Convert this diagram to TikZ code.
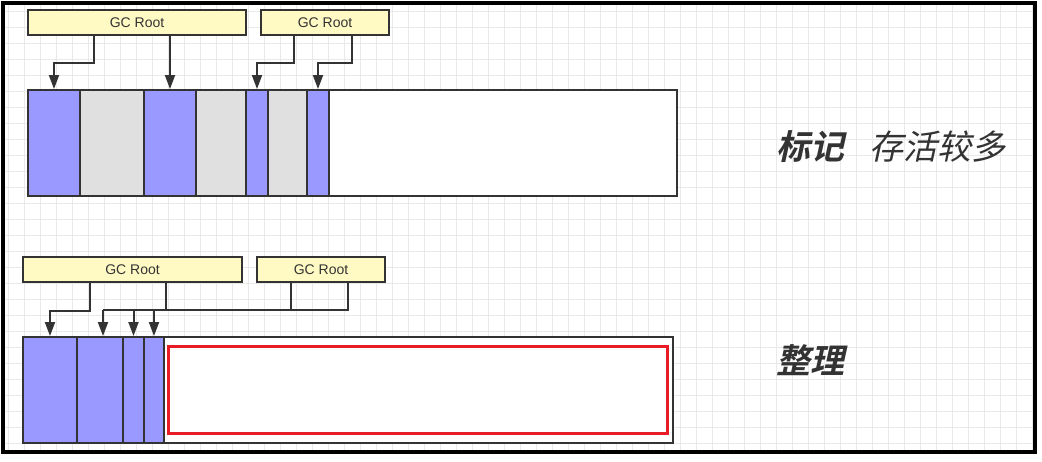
\documentclass[tikz,border=0pt]{standalone}
\usepackage{fontspec}
\setmainfont{Liberation Sans}
\newfontfamily\cjk[FakeSlant=0.22]{Noto Sans CJK SC}
\newfontfamily\cjkbf[UprightFont={* Bold}, FakeSlant=0.22]{Noto Sans CJK SC}
\usetikzlibrary{arrows.meta}
\definecolor{live}{HTML}{9999FF}
\definecolor{dead}{HTML}{E0E0E0}
\definecolor{rootbg}{HTML}{FFF9C4}
\definecolor{ink}{HTML}{333333}
\definecolor{gridline}{HTML}{E9E9E9}
\definecolor{freeline}{HTML}{E81C24}
\tikzset{
  root/.style={draw=ink, line width=2pt, fill=rootbg, inner sep=0pt, minimum height=25pt,
    font=\fontsize{14}{16}\selectfont, text=ink},
  cell/.style={draw=ink, line width=2pt, inner sep=0pt, minimum height=106pt},
  arr/.style={draw=ink, line width=2pt, -{Triangle[length=14pt,width=10pt]}},
  tag/.style={font=\cjk\fontsize{34}{38}\selectfont, text=ink, anchor=west, inner sep=0pt},
  bigtag/.style={tag, font=\cjkbf\fontsize{34}{38}\selectfont}
}
\begin{document}
\begin{tikzpicture}[x=1pt, y=-1pt]
  \useasboundingbox (0,0) rectangle (1042,461);
  \fill[white] (0,0) rectangle (1042,461);
  \foreach \k in {8,24,...,1040} \draw[gridline, line width=0.8pt] (\k,3) -- (\k,452);
  \foreach \k in {11,27,...,452} \draw[gridline, line width=0.8pt] (3,\k) -- (1035,\k);
  % mark: roots above, live and dead objects mixed
  \node[root, minimum width=218pt] (r1) at (137,22.5) {GC Root};
  \node[root, minimum width=128pt] (r2) at (325,22.5) {GC Root};
  \node[cell, fill=white, minimum width=649pt] (heap1) at (352.5,143) {};
  \foreach \n/\a/\b/\c in {m1/28/80/live, m2/80/144/dead, m3/144/196/live, m4/196/246/dead,
      m5/246/268/live, m6/268/307/dead, m7/307/329/live}
    \node[cell, fill=\c, minimum width={(\b-\a)*1pt}] (\n) at ({(\a+\b)/2},143) {};
  \draw[arr] (r1.south -| 94,0) -- ++(0,27) -| (m1.north);
  \draw[arr] (r1.south -| m3.north) -- (m3.north);
  \draw[arr] (r2.south -| 294,0) -- ++(0,27) -| (m5.north);
  \draw[arr] (r2.south -| 352,0) -- ++(0,27) -| (m7.north);
  \node[bigtag] (t1) at (776,147) {标记};
  \node[tag] (t2) at (869,147) {存活较多};
  % compact: live objects moved to the front
  \node[root, minimum width=219pt] (r3) at (132.5,269.5) {GC Root};
  \node[root, minimum width=128pt] (r4) at (321,269.5) {GC Root};
  \node[cell, fill=white, minimum width=650pt] (heap2) at (348,390) {};
  \foreach \n/\a/\b in {c1/23/77, c2/77/123, c3/123/144, c4/144/164}
    \node[cell, fill=live, minimum width={(\b-\a)*1pt}] (\n) at ({(\a+\b)/2},390) {};
  \node[draw=freeline, line width=3pt, inner sep=0pt, minimum width=499pt, minimum height=87pt] (free) at (417.5,389.5) {};
  \coordinate (j1) at (103,310);
  \coordinate (j2) at (348,310);
  \draw[arr] (r3.south -| 90,0) -- ++(0,28) -| (c1.north);
  \draw[ink, line width=2pt] (r3.south -| 166,0) -- (j1 -| 166,0);
  \draw[ink, line width=2pt] (r4.south -| 291,0) -- (j1 -| 291,0);
  \draw[ink, line width=2pt] (r4.south -| j2) -- (j2) -- (j1);
  \draw[arr] (j1) -- (c2.north -| j1);
  \draw[arr] (j1 -| c3.north) -- (c3.north);
  \draw[arr] (j1 -| c4.north) -- (c4.north);
  \node[bigtag] (t3) at (776,360) {整理};
  \draw[black, line width=4.5pt] (3,3) rectangle (1035,452);
\end{tikzpicture}
\end{document}
